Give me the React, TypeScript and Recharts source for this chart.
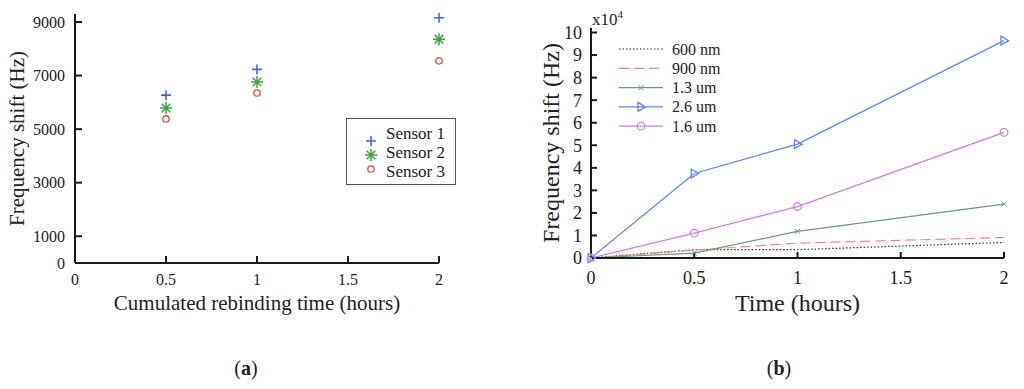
import React from 'react';
import { ScatterChart, Scatter, LineChart, Line, XAxis, YAxis, Legend } from 'recharts';

const FONT = '"Liberation Serif", "Times New Roman", serif';

// (a) rebinding scatter
const rebindHours = [0.5, 1, 2];
const sensor1 = [6270, 7230, 9160];
const sensor2 = [5790, 6760, 8360];
const sensor3 = [5380, 6350, 7550];
const sensorNames = ['Sensor 1', 'Sensor 2', 'Sensor 3'];
const sensorColors = ['#4466dd', '#3aa83a', '#e5493c'];
const sensorMarks = ['+', '*', 'o'];
const aXTicks = [0, 0.5, 1, 1.5, 2];
const aYTicks = [0, 1000, 3000, 5000, 7000, 9000];

// (b) frequency shift vs time, in units of 1e4 Hz
const timeHours = [0, 0.5, 1, 2];
const nm600 = [0, 0.37, 0.37, 0.69];
const nm900 = [0, 0.35, 0.66, 0.91];
const um13 = [0, 0.22, 1.18, 2.39];
const um26 = [0, 3.75, 5.05, 9.64];
const um16 = [0, 1.1, 2.28, 5.57];
const sizeNames = ['600 nm', '900 nm', '1.3 um', '2.6 um', '1.6 um'];
const sizeColors = ['#333333', '#f28b7c', '#6b9a7c', '#5b87f5', '#cf7fdf'];
const sizeDash = ['1.5 2', '10 5', undefined, undefined, undefined];
const sizeMarks = ['', '', 'x', 'tri', 'circ'];
const bXTicks = [0, 0.5, 1, 1.5, 2];
const bYTicks = [0, 1, 2, 3, 4, 5, 6, 7, 8, 9, 10];

const sensorSeries = [sensor1, sensor2, sensor3].map((vals) =>
  vals.map((v, i) => ({ x: rebindHours[i], y: v }))
);
const sizeSeries = [nm600, nm900, um13, um26, um16];
const timeRows = timeHours.map((t, i) => {
  const row: Record<string, number> = { t };
  sizeNames.forEach((n, k) => (row[n] = sizeSeries[k][i]));
  return row;
});

const axisStyle = { stroke: '#1a1a1a', strokeWidth: 2 };
const txt = (size: number) => ({ fontSize: size, fontFamily: FONT, fill: '#222', style: { fontFamily: FONT } });

const Marker = ({ kind, cx, cy, color }: { kind: string; cx: number; cy: number; color: string }) => {
  if (cx == null || cy == null) return null;
  if (kind === '+')
    return <path d={`M${cx - 5},${cy}H${cx + 5}M${cx},${cy - 5}V${cy + 5}`} stroke={color} strokeWidth={1.6} fill="none" />;
  if (kind === '*')
    return (
      <path
        d={`M${cx - 6},${cy}H${cx + 6}M${cx},${cy - 6}V${cy + 6}M${cx - 4.3},${cy - 4.3}L${cx + 4.3},${cy + 4.3}M${cx - 4.3},${cy + 4.3}L${cx + 4.3},${cy - 4.3}`}
        stroke={color}
        strokeWidth={1.5}
        fill="none"
      />
    );
  if (kind === 'o') return <circle cx={cx} cy={cy} r={3.2} stroke={color} strokeWidth={1.3} fill="none" />;
  if (kind === 'x')
    return <path d={`M${cx - 2.5},${cy - 2.5}L${cx + 2.5},${cy + 2.5}M${cx - 2.5},${cy + 2.5}L${cx + 2.5},${cy - 2.5}`} stroke={color} strokeWidth={1} fill="none" />;
  if (kind === 'tri')
    return <path d={`M${cx - 3},${cy - 4.5}L${cx + 4.5},${cy}L${cx - 3},${cy + 4.5}Z`} stroke={color} strokeWidth={1.3} fill="none" />;
  if (kind === 'circ') return <circle cx={cx} cy={cy} r={3.8} stroke={color} strokeWidth={1.2} fill="none" />;
  return null;
};

// legends drawn in series order (recharts sorts its payload by name)
const SensorLegend = () => (
  <div style={{ border: '1px solid #555', background: '#fff', width: 108, height: 65 }}>
    <svg width={108} height={65}>
      {sensorNames.map((n, i) => (
        <g key={n}>
          <Marker kind={sensorMarks[i]} cx={24} cy={22 + i * 14} color={sensorColors[i]} />
          <text x={39} y={20 + i * 19} {...txt(17)}>
            {n}
          </text>
        </g>
      ))}
    </svg>
  </div>
);

const SizeLegend = () => (
  <svg width={130} height={100}>
    {sizeNames.map((n, i) => {
      const y = 11 + i * 19.3;
      return (
        <g key={n}>
          <line x1={7} x2={51} y1={y} y2={y} stroke={sizeColors[i]} strokeWidth={1.2} strokeDasharray={sizeDash[i]} />
          <Marker kind={sizeMarks[i]} cx={29} cy={y} color={sizeColors[i]} />
          <text x={60} y={y + 5.5} {...txt(16)}>
            {n}
          </text>
        </g>
      );
    })}
  </svg>
);

export default function App() {
  return (
    <div style={{ position: 'absolute', left: 0, top: 0, width: 1024, height: 389, background: '#fff', fontFamily: FONT }}>
      <div style={{ position: 'absolute', left: 0, top: 0 }}>
        <ScatterChart width={512} height={330} margin={{ top: 14, right: 73, bottom: 17, left: 15 }}>
          <XAxis
            type="number"
            dataKey="x"
            domain={[0, 2]}
            ticks={aXTicks}
            interval={0}
            height={50}
            tickSize={-7}
            tickMargin={18}
            axisLine={axisStyle}
            tickLine={axisStyle}
            tick={txt(16)}
            label={{ value: 'Cumulated rebinding time (hours)', position: 'insideBottom', offset: 3, ...txt(21) }}
          />
          <YAxis
            type="number"
            dataKey="y"
            domain={[0, 9300]}
            ticks={aYTicks}
            interval={0}
            width={60}
            tickSize={-7}
            tickMargin={17}
            axisLine={axisStyle}
            tickLine={axisStyle}
            tick={txt(16)}
            label={{ value: 'Frequency shift (Hz)', angle: -90, position: 'insideLeft', offset: 2, fontSize: 21, fontFamily: FONT, fill: '#222', style: { textAnchor: 'middle', fontFamily: FONT } }}
          />
          <Legend layout="vertical" align="center" verticalAlign="middle" content={SensorLegend} wrapperStyle={{ left: 346, top: 118, width: 110, height: 67 }} />
          {sensorSeries.map((d, k) => (
            <Scatter
              key={sensorNames[k]}
              name={sensorNames[k]}
              data={d}
              fill={sensorColors[k]}
              isAnimationActive={false}
              shape={(p: any) => <Marker kind={sensorMarks[k]} cx={p.cx} cy={p.cy} color={sensorColors[k]} />}
            />
          ))}
        </ScatterChart>
      </div>

      <div style={{ position: 'absolute', left: 512, top: 0 }}>
        <LineChart width={512} height={330} data={timeRows} margin={{ top: 28, right: 20, bottom: 22, left: 19 }}>
          <XAxis
            type="number"
            dataKey="t"
            domain={[0, 2]}
            ticks={bXTicks}
            interval={0}
            height={50}
            tickSize={-6}
            tickMargin={19}
            axisLine={axisStyle}
            tickLine={axisStyle}
            tick={txt(18)}
            label={{ value: 'Time (hours)', position: 'insideBottom', offset: -3, ...txt(24) }}
          />
          <YAxis
            type="number"
            domain={[0, 10.2]}
            ticks={bYTicks}
            interval={0}
            width={60}
            tickSize={-6}
            tickMargin={15}
            axisLine={axisStyle}
            tickLine={axisStyle}
            tick={txt(18)}
            label={{ value: 'Frequency shift (Hz)', angle: -90, position: 'insideLeft', offset: 19, fontSize: 24, fontFamily: FONT, fill: '#222', style: { textAnchor: 'middle', fontFamily: FONT } }}
          />
          <Legend layout="vertical" align="center" verticalAlign="middle" content={SizeLegend} wrapperStyle={{ left: 100, top: 38, width: 130, height: 100 }} />
          {sizeNames.map((n, k) => (
            <Line
              key={n}
              type="linear"
              dataKey={n}
              name={n}
              stroke={sizeColors[k]}
              strokeWidth={1.2}
              strokeDasharray={sizeDash[k]}
              isAnimationActive={false}
              dot={
                sizeMarks[k]
                  ? (p: any) => <Marker key={`${n}-${p.index}`} kind={sizeMarks[k]} cx={p.cx} cy={p.cy} color={sizeColors[k]} />
                  : false
              }
              activeDot={false}
            />
          ))}
        </LineChart>
      </div>

      <svg width={1024} height={389} style={{ position: 'absolute', left: 0, top: 0, pointerEvents: 'none' }}>
        <text x={592} y={25} {...txt(17)}>
          x10<tspan dy={-7} fontSize={11}>4</tspan>
        </text>
        <text x={246} y={375} textAnchor="middle" {...txt(20)}>
          (<tspan fontWeight="bold">a</tspan>)
        </text>
        <text x={779} y={375} textAnchor="middle" {...txt(20)}>
          (<tspan fontWeight="bold">b</tspan>)
        </text>
      </svg>
    </div>
  );
}
